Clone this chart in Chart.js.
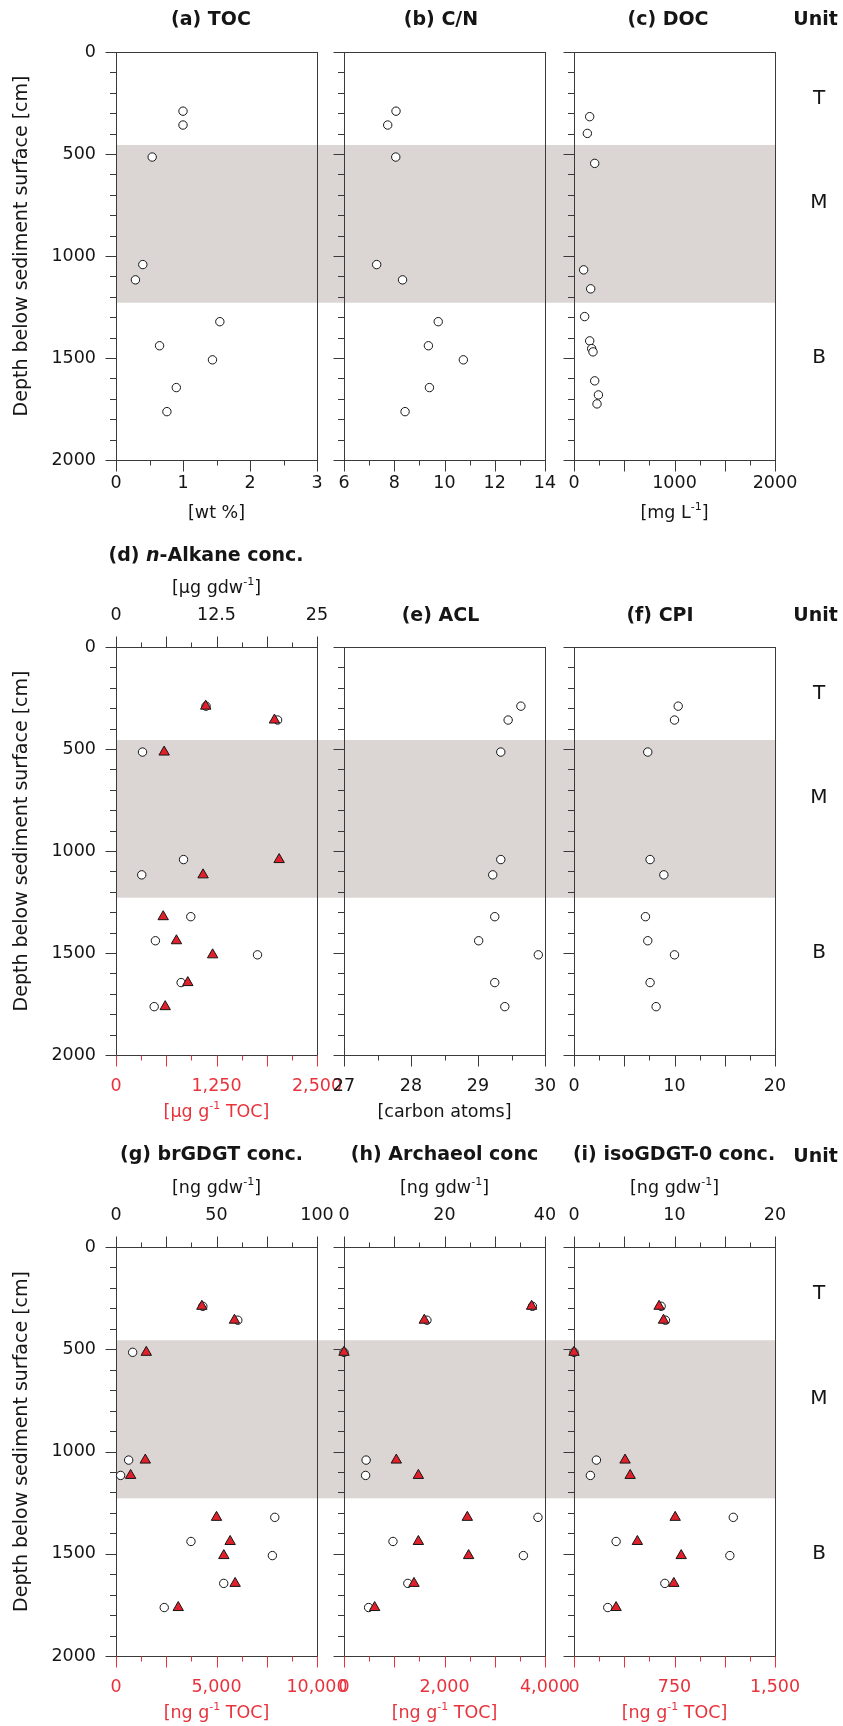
<!DOCTYPE html>
<html>
<head>
<meta charset="utf-8">
<script src="https://cdn.jsdelivr.net/npm/chart.js@4.4.1/dist/chart.umd.min.js"></script>
<style>
  body { margin: 0; background: #fff; }
  #fig { position: relative; width: 843px; height: 1726px; overflow: hidden; }
  #fig canvas { position: absolute; }
</style>
</head>
<body>
<div id="fig"></div>
<script>
// --------- datos (profundidad en cm) ---------
const depth    = [290, 358, 515, 1042, 1117, 1322, 1440, 1509, 1645, 1763];
const tocWt    = [1.0, 1.0, 0.54, 0.40, 0.29, 1.55, 0.65, 1.44, 0.90, 0.76];
const cnRatio  = [8.07, 7.74, 8.06, 7.30, 8.33, 9.75, 9.36, 10.75, 9.40, 8.43];
const docDepth = [317, 399, 546, 1068, 1161, 1297, 1416, 1454, 1470, 1612, 1681, 1725];
const docConc  = [156, 133, 206, 96, 166, 106, 156, 176, 189, 206, 243, 229];
const alkGdw   = [11.2, 20.1, 3.3, 8.4, 3.2, 9.3, 4.9, 17.6, 8.1, 4.75];
const alkToc   = [1116, 1971, 599, 2029, 1083, 587, 752, 1202, 893, 612];
const aclVal   = [29.64, 29.45, 29.34, 29.34, 29.22, 29.25, 29.01, 29.90, 29.25, 29.40];
const cpiVal   = [10.37, 10.0, 7.34, 7.57, 8.94, 7.11, 7.34, 10.0, 7.57, 8.17];
const brGdw    = [43.2, 60.6, 8.3, 6.3, 2.3, 79.0, 37.3, 77.8, 53.6, 24.0];
const brToc    = [4272, 5894, 1507, 1457, 728, 5000, 5679, 5364, 5927, 3096];
const archGdw  = [37.5, 16.5, 0, 4.4, 4.3, 38.6, 9.75, 35.7, 12.7, 4.9];
const archToc  = [3733, 1598, 0, 1041, 1480, 2454, 1480, 2480, 1393, 610];
const isoGdw   = [8.67, 9.10, 0, 2.23, 1.63, 15.85, 4.19, 15.51, 9.04, 3.36];
const isoToc   = [635, 668, 0, 381, 419, 755, 473, 800, 745, 314];

// unidades litologicas
const unitNames = ['T', 'M', 'B'];
const unitDepth = [230, 740, 1500];
const unitM = [456, 1229];          // franja gris (unidad M)

// etiquetas de ejes (repartidas entre min y max)
const depthLabels   = ['0', '500', '1000', '1500', '2000'];
const tocLabels     = ['0', '1', '2', '3'];
const cnLabels      = ['6', '8', '10', '12', '14'];
const docLabels     = ['0', '1000', '2000'];
const alkGdwLabels  = ['0', '12.5', '25'];
const alkTocLabels  = ['0', '1,250', '2,500'];
const aclLabels     = ['27', '28', '29', '30'];
const cpiLabels     = ['0', '10', '20'];
const brGdwLabels   = ['0', '50', '100'];
const brTocLabels   = ['0', '5,000', '10,000'];
const archGdwLabels = ['0', '20', '40'];
const archTocLabels = ['0', '2,000', '4,000'];
const isoGdwLabels  = ['0', '10', '20'];
const isoTocLabels  = ['0', '750', '1,500'];

// --------- estilo ---------
const FONT = '"DejaVu Sans", sans-serif';
const INK = '#151515', AXIS = '#3a3a3a', RED = '#e8323c', TRI = '#e0202a', BAND = '#dbd6d4';
const TICK_SIZE = 17.5, TOP_AXIS_H = 45;

// geometria: columnas y filas (px de pagina)
const COLS = [
  { L: 116, R: 317, left: 0,   width: 346 },
  { L: 344, R: 545, left: 318, width: 260 },
  { L: 574, R: 775, left: 546, width: 297 }
];
const ROWS = [
  { T: 52,   B: 460,  top: 0,    bottom: 532,  padB: 12.5, titleB: 53, unitY: 20.5 },
  { T: 647,  B: 1055, top: 532,  bottom: 1130, padB: 21,   titleB: 57, unitY: 616.5 },
  { T: 1247, B: 1656, top: 1130, bottom: 1726, padB: 21,   titleB: 57, unitY: 1157.5 }
];

const sup = t => ({ t: t, sup: true });

const panels = [
  { row: 0, col: 0, title: ['(a) TOC'], tx: 211, ty: 20.5,
    bottom: { min: 0, max: 3, step: 0.5, major: 1, labels: tocLabels, color: INK, title: ['[wt %]'] },
    series: [{ x: tocWt, y: depth }] },
  { row: 0, col: 1, title: ['(b) C/N'], tx: 441, ty: 20.5,
    bottom: { min: 6, max: 14, step: 1, major: 2, labels: cnLabels, color: INK, title: null },
    series: [{ x: cnRatio, y: depth }] },
  { row: 0, col: 2, title: ['(c) DOC'], tx: 668, ty: 20.5,
    bottom: { min: 0, max: 2000, step: 250, major: 500, labels: docLabels, color: INK, title: ['[mg L', sup('-1'), ']'] },
    series: [{ x: docConc, y: docDepth }] },

  { row: 1, col: 0, title: ['(d) ', { t: 'n', it: true }, '-Alkane conc.'], tx: 206, ty: 556,
    top: { min: 0, max: 25, step: 3.125, major: 6.25, labels: alkGdwLabels, color: INK, title: ['[µg gdw', sup('-1'), ']'] },
    bottom: { min: 0, max: 2500, step: 312.5, major: 625, labels: alkTocLabels, color: RED, title: ['[µg g', sup('-1'), ' TOC]'] },
    series: [{ x: alkToc, y: depth, tri: true }, { x: alkGdw, y: depth, top: true }] },
  { row: 1, col: 1, title: ['(e) ACL'], tx: 440.5, ty: 616.5,
    bottom: { min: 27, max: 30, step: 0.5, major: 1, labels: aclLabels, color: INK, title: ['[carbon atoms]'] },
    series: [{ x: aclVal, y: depth }] },
  { row: 1, col: 2, title: ['(f) CPI'], tx: 660, ty: 616.5,
    bottom: { min: 0, max: 20, step: 2.5, major: 5, labels: cpiLabels, color: INK, title: null },
    series: [{ x: cpiVal, y: depth }] },

  { row: 2, col: 0, title: ['(g) brGDGT conc.'], tx: 211.5, ty: 1155,
    top: { min: 0, max: 100, step: 12.5, major: 25, labels: brGdwLabels, color: INK, title: ['[ng gdw', sup('-1'), ']'] },
    bottom: { min: 0, max: 10000, step: 1250, major: 2500, labels: brTocLabels, color: RED, title: ['[ng g', sup('-1'), ' TOC]'] },
    series: [{ x: brToc, y: depth, tri: true }, { x: brGdw, y: depth, top: true }] },
  { row: 2, col: 1, title: ['(h) Archaeol conc'], tx: 444.5, ty: 1155,
    top: { min: 0, max: 40, step: 5, major: 10, labels: archGdwLabels, color: INK, title: ['[ng gdw', sup('-1'), ']'] },
    bottom: { min: 0, max: 4000, step: 500, major: 1000, labels: archTocLabels, color: RED, title: ['[ng g', sup('-1'), ' TOC]'] },
    series: [{ x: archToc, y: depth, tri: true }, { x: archGdw, y: depth, top: true }] },
  { row: 2, col: 2, title: ['(i) isoGDGT-0 conc.'], tx: 674, ty: 1155,
    top: { min: 0, max: 20, step: 2.5, major: 5, labels: isoGdwLabels, color: INK, title: ['[ng gdw', sup('-1'), ']'] },
    bottom: { min: 0, max: 1500, step: 187.5, major: 375, labels: isoTocLabels, color: RED, title: ['[ng g', sup('-1'), ' TOC]'] },
    series: [{ x: isoToc, y: depth, tri: true }, { x: isoGdw, y: depth, top: true }] }
];

// --------- helpers ---------
function labelFor(v, min, max, labels) {
  const k = (v - min) / (max - min) * (labels.length - 1);
  const r = Math.round(k);
  return Math.abs(k - r) < 1e-6 ? labels[r] : '';
}
function isMajor(v, base, step) {
  const k = (v - base) / step;
  return Math.abs(k - Math.round(k)) < 1e-6;
}
function zeroPad(s) { s.paddingLeft = s.paddingRight = s.paddingTop = s.paddingBottom = 0; }

function xScale(a, pos, pad, h) {
  return {
    type: 'linear', position: pos, min: a.min, max: a.max,
    grid: { display: false, drawTicks: false }, border: { display: false },
    ticks: { stepSize: a.step, autoSkip: false, maxRotation: 0, padding: pad, color: a.color,
             font: { family: FONT, size: TICK_SIZE, lineHeight: 1.2 },
             callback: v => labelFor(v, a.min, a.max, a.labels) },
    afterFit: s => { s.height = h; zeroPad(s); }
  };
}
function yScale(show, w) {
  return {
    type: 'linear', position: 'left', reverse: true, min: 0, max: 2000,
    grid: { display: false, drawTicks: false }, border: { display: false },
    ticks: { display: show, stepSize: 100, autoSkip: false, padding: 20, color: INK,
             font: { family: FONT, size: TICK_SIZE, lineHeight: 1.2 },
             callback: v => labelFor(v, 0, 2000, depthLabels) },
    afterFit: s => { s.width = w; zeroPad(s); }
  };
}

// texto con partes en cursiva / superindice
function drawRich(ctx, parts, x, y, size, weight, color) {
  const segs = parts.map(p => typeof p === 'string' ? { t: p } : Object.assign({}, p));
  let total = 0;
  segs.forEach(s => {
    const sz = s.sup ? Math.round(size * 0.62) : size;
    s.font = (s.it ? 'italic ' : '') + weight + ' ' + sz + 'px ' + FONT;
    ctx.font = s.font;
    s.w = ctx.measureText(s.t).width;
    total += s.w;
  });
  let cx = x - total / 2;
  ctx.fillStyle = color; ctx.textBaseline = 'middle'; ctx.textAlign = 'left';
  segs.forEach(s => {
    ctx.font = s.font;
    ctx.fillText(s.t, cx, y + (s.sup ? -size * 0.33 : 0));
    cx += s.w;
  });
}

function line(ctx, x0, y0, x1, y1) {
  ctx.beginPath(); ctx.moveTo(x0, y0); ctx.lineTo(x1, y1); ctx.stroke();
}

// plugin por panel: franja, marco, ticks y textos
function makeDecor(p, c, r) {
  return {
    id: 'decor',
    beforeDatasetsDraw(chart) {
      const { ctx, chartArea: a, scales } = chart;
      const ys = scales.y;
      ctx.save();
      const bx = p.col === 0 ? a.left : 0;
      const b0 = ys.getPixelForValue(unitM[0]), b1 = ys.getPixelForValue(unitM[1]);
      ctx.fillStyle = BAND;
      ctx.fillRect(bx, b0, a.right + 1 - bx, b1 - b0);

      ctx.lineWidth = 1;
      ctx.strokeStyle = AXIS;
      ctx.strokeRect(a.left + 0.5, a.top + 0.5, a.right - a.left, a.bottom - a.top);

      ys.ticks.forEach(t => {
        const py = Math.round(ys.getPixelForValue(t.value)) + 0.5;
        const len = isMajor(t.value, 0, 500) ? 11 : 6.5;
        line(ctx, a.left + 0.5 - len, py, a.left + 0.5, py);
      });
      const xs = scales.x, bo = p.bottom;
      ctx.strokeStyle = bo.color === RED ? RED : AXIS;
      xs.ticks.forEach(t => {
        const px = Math.round(xs.getPixelForValue(t.value)) + 0.5;
        const len = isMajor(t.value, bo.min, bo.major) ? 11 : 5;
        line(ctx, px, a.bottom + 0.5, px, a.bottom + 0.5 + len);
      });
      if (p.top) {
        const xt = scales.xt;
        ctx.strokeStyle = AXIS;
        xt.ticks.forEach(t => {
          const px = Math.round(xt.getPixelForValue(t.value)) + 0.5;
          const len = isMajor(t.value, p.top.min, p.top.major) ? 11 : 5;
          line(ctx, px, a.top + 0.5, px, a.top + 0.5 - len);
        });
      }
      ctx.restore();
    },
    afterDraw(chart) {
      const { ctx, chartArea: a, scales } = chart;
      const mid = (a.left + a.right) / 2;
      ctx.save();
      drawRich(ctx, p.title, p.tx - c.left, p.ty - r.top, 19, 'bold', INK);
      if (p.bottom.title) {
        drawRich(ctx, p.bottom.title, mid, r.B + r.titleB - r.top, 17.5, 'normal', p.bottom.color);
      }
      if (p.top) {
        drawRich(ctx, p.top.title, mid, r.T - 59 - r.top, 17.5, 'normal', INK);
      }
      if (p.col === 0) {
        ctx.save();
        ctx.translate(21.7 - c.left, (a.top + a.bottom) / 2 - 10);
        ctx.rotate(-Math.PI / 2);
        drawRich(ctx, ['Depth below sediment surface [cm]'], 0, 0, 19, 'normal', INK);
        ctx.restore();
      }
      if (p.col === 2) {
        drawRich(ctx, ['Unit'], 815.5 - c.left, r.unitY - r.top, 19, 'bold', INK);
        unitNames.forEach((u, i) => {
          drawRich(ctx, [u], 819 - c.left, scales.y.getPixelForValue(unitDepth[i]), 20, 'normal', INK);
        });
      }
      ctx.restore();
    }
  };
}

// --------- armar los 9 paneles ---------
const fig = document.getElementById('fig');

panels.forEach(p => {
  const c = COLS[p.col], r = ROWS[p.row];
  const cv = document.createElement('canvas');
  const w = c.width, h = r.bottom - r.top;
  cv.width = w; cv.height = h;
  cv.style.left = c.left + 'px'; cv.style.top = r.top + 'px';
  cv.style.width = w + 'px'; cv.style.height = h + 'px';
  fig.appendChild(cv);

  const leftW = c.L - c.left, topH = r.T - r.top, bottomH = r.bottom - r.B;
  const rightPad = w - leftW - (c.R - c.L);
  const scales = { y: yScale(p.col === 0, leftW), x: xScale(p.bottom, 'bottom', r.padB, bottomH) };
  let padTop = topH;
  if (p.top) {
    scales.xt = xScale(p.top, 'top', 21.5, TOP_AXIS_H);
    padTop -= TOP_AXIS_H;
  }

  const datasets = p.series.map(s => ({
    data: s.x.map((v, i) => ({ x: v, y: s.y[i] })),
    xAxisID: s.top ? 'xt' : 'x',
    yAxisID: 'y',
    pointStyle: s.tri ? 'triangle' : 'circle',
    radius: s.tri ? 6 : 4.2,
    backgroundColor: s.tri ? TRI : '#ffffff',
    borderColor: INK,
    borderWidth: 1,
    clip: false
  }));

  new Chart(cv, {
    type: 'scatter',
    data: { datasets: datasets },
    options: {
      responsive: false,
      animation: false,
      events: [],
      layout: { autoPadding: false, padding: { top: padTop, left: 0, right: rightPad, bottom: 0 } },
      scales: scales,
      plugins: { legend: { display: false }, tooltip: { enabled: false } }
    },
    plugins: [makeDecor(p, c, r)]
  });
});
</script>
</body>
</html>
